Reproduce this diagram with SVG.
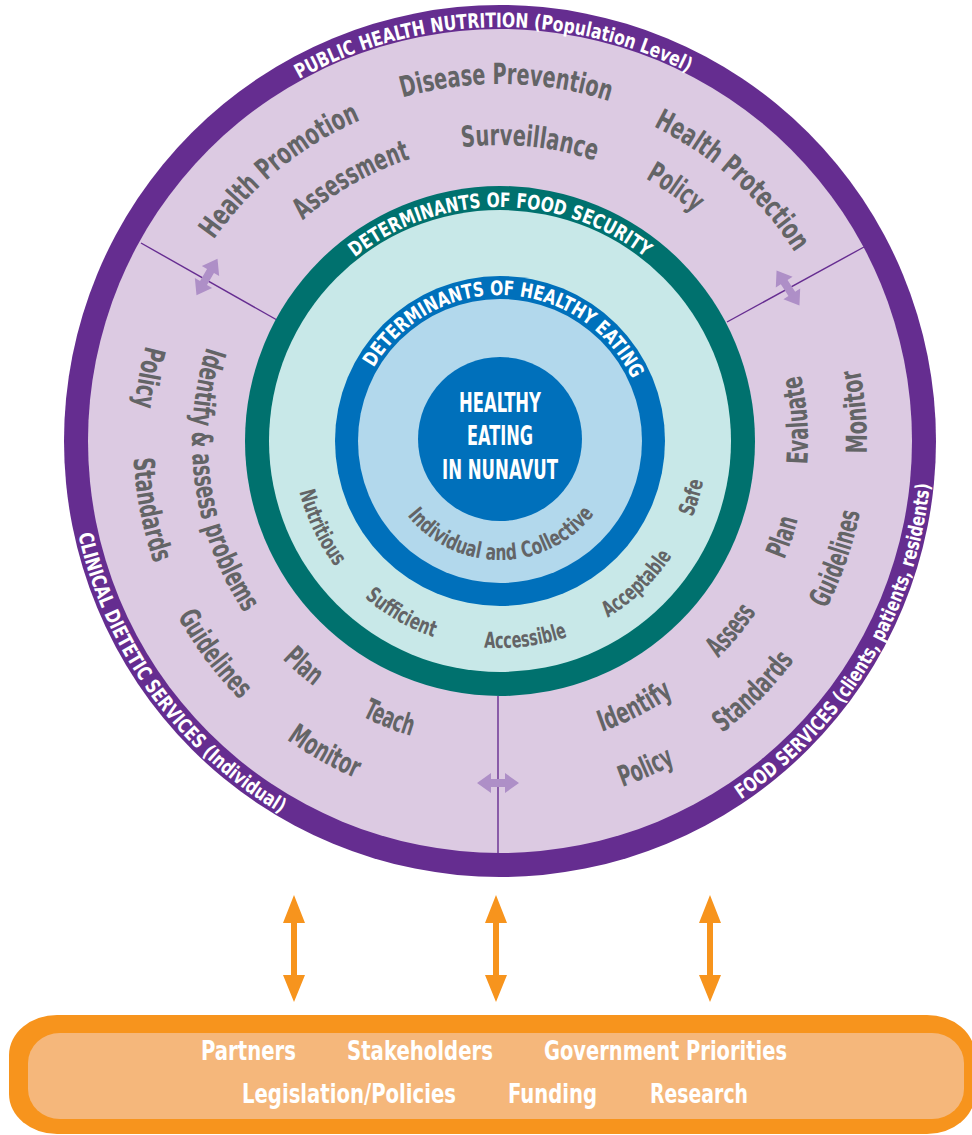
<svg xmlns="http://www.w3.org/2000/svg" xmlns:xlink="http://www.w3.org/1999/xlink" width="972" height="1135" viewBox="0 0 972 1135">
<style>
.f{font-family:"DejaVu Sans Condensed","DejaVu Sans","Liberation Sans",sans-serif;font-weight:bold;font-stretch:condensed}
.lbl{fill:#636466;font-size:29px}
.sm{fill:#636466;font-size:22px}
.ring{fill:#ffffff;font-size:20px}
.ctr{fill:#ffffff;font-size:26px}
.box{fill:#ffffff;font-size:27px}
.div{stroke:#662d91;stroke-width:1.4;fill:none}
.parr{fill:#ae8fc7}
.oarr{fill:#f7941d}
</style>
<defs>
<path id="pO414" d="M 86 441 A 414 414 0 0 1 914 441"/>
<path id="pO234" d="M 266 441 A 234 234 0 0 1 734 441"/>
<path id="pO146" d="M 354 441 A 146 146 0 0 1 646 441"/>
<path id="pO350" d="M 150 441 A 350 350 0 0 1 850 441"/>
<path id="pO357" d="M 143 441 A 357 357 0 0 1 857 441"/>
<path id="pO296" d="M 204 441 A 296 296 0 0 1 796 441"/>
<path id="pO300" d="M 200 441 A 300 300 0 0 1 800 441"/>
<path id="pI432" d="M 68 441 A 432 432 0 0 0 932 441"/>
<path id="pI367" d="M 133 441 A 367 367 0 0 0 867 441"/>
<path id="pI308" d="M 192 441 A 308 308 0 0 0 808 441"/>
<path id="pI207" d="M 293 441 A 207 207 0 0 0 707 441"/>
<path id="pI119" d="M 381 441 A 119 119 0 0 0 619 441"/>
<path id="dbl" d="M -21 0 L -7 -10 L -7 -4 L 7 -4 L 7 -10 L 21 0 L 7 10 L 7 4 L -7 4 L -7 10 Z"/>
</defs>

<g id="outer-ring">
<circle cx="500" cy="441" r="436" fill="#652d90"/>
<circle cx="500" cy="441" r="412" fill="#dccae2"/>
</g>

<g id="connectors">
<line class="div" x1="141" y1="243" x2="277" y2="320"/>
<line class="div" x1="864" y1="247" x2="727" y2="322"/>
<line class="div" x1="498" y1="696" x2="498" y2="853"/>
<use href="#dbl" class="parr" transform="translate(207,277) rotate(-60)"/>
<use href="#dbl" class="parr" transform="translate(788,288) rotate(57)"/>
<use href="#dbl" class="parr" transform="translate(498,783)"/>
<path class="oarr" d="M 294 895 L 305 923 L 297 923 L 297 975 L 305 975 L 294 1002 L 283 975 L 291 975 L 291 923 L 283 923 Z"/>
<path class="oarr" d="M 496 895 L 507 923 L 499 923 L 499 975 L 507 975 L 496 1002 L 485 975 L 493 975 L 493 923 L 485 923 Z"/>
<path class="oarr" d="M 710 895 L 721 923 L 713 923 L 713 975 L 721 975 L 710 1002 L 699 975 L 707 975 L 707 923 L 699 923 Z"/>
</g>

<g id="food-security">
<circle cx="500" cy="441" r="255" fill="#00716e"/>
<circle cx="500" cy="441" r="231" fill="#c8e8e8"/>
<text class="f ring" font-size="19" text-anchor="middle" fill="#d6f0ef"><textPath href="#pO234" startOffset="50%" textLength="313" lengthAdjust="spacingAndGlyphs">DETERMINANTS OF FOOD SECURITY</textPath></text>
<g transform="rotate(64.2 500 441)"><text class="f sm" text-anchor="middle"><textPath href="#pI207" startOffset="50%" textLength="84" lengthAdjust="spacingAndGlyphs">Nutritious</textPath></text></g>
<g transform="rotate(29.8 500 441)"><text class="f sm" text-anchor="middle"><textPath href="#pI207" startOffset="50%" textLength="80" lengthAdjust="spacingAndGlyphs">Sufficient</textPath></text></g>
<g transform="rotate(-7.3 500 441)"><text class="f sm" text-anchor="middle"><textPath href="#pI207" startOffset="50%" textLength="85" lengthAdjust="spacingAndGlyphs">Accessible</textPath></text></g>
<g transform="rotate(-43.8 500 441)"><text class="f sm" text-anchor="middle"><textPath href="#pI207" startOffset="50%" textLength="90" lengthAdjust="spacingAndGlyphs">Acceptable</textPath></text></g>
<g transform="rotate(-73.6 500 441)"><text class="f sm" text-anchor="middle"><textPath href="#pI207" startOffset="50%" textLength="38" lengthAdjust="spacingAndGlyphs">Safe</textPath></text></g>
</g>

<g id="healthy-eating-ring">
<circle cx="500" cy="441" r="165" fill="#0070bb"/>
<circle cx="500" cy="441" r="142" fill="#b2d8ec"/>
<g transform="rotate(2.5 500 441)"><text class="f ring" font-size="18" text-anchor="middle" fill="#c2e2f3"><textPath href="#pO146" startOffset="50%" textLength="318" lengthAdjust="spacingAndGlyphs">DETERMINANTS OF HEALTHY EATING</textPath></text></g>
<g transform="rotate(-0.5 500 441)"><text class="f sm" text-anchor="middle"><textPath href="#pI119" startOffset="50%" textLength="215" lengthAdjust="spacingAndGlyphs">Individual and Collective</textPath></text></g>
</g>

<g id="center">
<circle cx="500" cy="439" r="82" fill="#0070bb"/>
<text class="f ctr" x="500" y="412" text-anchor="middle" textLength="82" lengthAdjust="spacingAndGlyphs">HEALTHY</text>
<text class="f ctr" x="500" y="445" text-anchor="middle" textLength="66" lengthAdjust="spacingAndGlyphs">EATING</text>
<text class="f ctr" x="500" y="479" text-anchor="middle" textLength="116" lengthAdjust="spacingAndGlyphs">IN NUNAVUT</text>
</g>

<g id="public-health-nutrition">
<g transform="rotate(-1 500 441)"><text class="f ring" text-anchor="middle"><textPath href="#pO414" startOffset="50%" textLength="405" lengthAdjust="spacingAndGlyphs">PUBLIC HEALTH NUTRITION (Population Level)</textPath></text></g>
<g transform="rotate(-39.2 500 441)"><text class="f lbl" text-anchor="middle"><textPath href="#pO350" startOffset="50%" textLength="192" lengthAdjust="spacingAndGlyphs">Health Promotion</textPath></text></g>
<g transform="rotate(1 500 441)"><text class="f lbl" text-anchor="middle"><textPath href="#pO357" startOffset="50%" textLength="210" lengthAdjust="spacingAndGlyphs">Disease Prevention</textPath></text></g>
<g transform="rotate(41.7 500 441)"><text class="f lbl" text-anchor="middle"><textPath href="#pO350" startOffset="50%" textLength="192" lengthAdjust="spacingAndGlyphs">Health Protection</textPath></text></g>
<g transform="rotate(-29.7 500 441)"><text class="f lbl" text-anchor="middle"><textPath href="#pO296" startOffset="50%" textLength="125" lengthAdjust="spacingAndGlyphs">Assessment</textPath></text></g>
<g transform="rotate(5.7 500 441)"><text class="f lbl" text-anchor="middle"><textPath href="#pO296" startOffset="50%" textLength="135" lengthAdjust="spacingAndGlyphs">Surveillance</textPath></text></g>
<g transform="rotate(34.7 500 441)"><text class="f lbl" text-anchor="middle"><textPath href="#pO300" startOffset="50%" textLength="60" lengthAdjust="spacingAndGlyphs">Policy</textPath></text></g>
</g>

<g id="clinical-dietetic-services">
<g transform="rotate(54 500 441)"><text class="f ring" text-anchor="middle"><textPath href="#pI432" startOffset="50%" textLength="355" lengthAdjust="spacingAndGlyphs">CLINICAL DIETETIC SERVICES (Individual)</textPath></text></g>
<g transform="rotate(100.2 500 441)"><text class="f lbl" text-anchor="middle"><textPath href="#pI367" startOffset="50%" textLength="63" lengthAdjust="spacingAndGlyphs">Policy</textPath></text></g>
<g transform="rotate(78.9 500 441)"><text class="f lbl" text-anchor="middle"><textPath href="#pI367" startOffset="50%" textLength="108" lengthAdjust="spacingAndGlyphs">Standards</textPath></text></g>
<g transform="rotate(81.9 500 441)"><text class="f lbl" text-anchor="middle"><textPath href="#pI308" startOffset="50%" textLength="278" lengthAdjust="spacingAndGlyphs">Identify &amp; assess problems</textPath></text></g>
<g transform="rotate(53.3 500 441)"><text class="f lbl" text-anchor="middle"><textPath href="#pI367" startOffset="50%" textLength="105" lengthAdjust="spacingAndGlyphs">Guidelines</textPath></text></g>
<g transform="rotate(41.1 500 441)"><text class="f lbl" text-anchor="middle"><textPath href="#pI308" startOffset="50%" textLength="42" lengthAdjust="spacingAndGlyphs">Plan</textPath></text></g>
<g transform="rotate(21.7 500 441)"><text class="f lbl" text-anchor="middle"><textPath href="#pI308" startOffset="50%" textLength="53" lengthAdjust="spacingAndGlyphs">Teach</textPath></text></g>
<g transform="rotate(29.4 500 441)"><text class="f lbl" text-anchor="middle"><textPath href="#pI367" startOffset="50%" textLength="79" lengthAdjust="spacingAndGlyphs">Monitor</textPath></text></g>
</g>

<g id="food-services">
<g transform="rotate(-59.1 500 441)"><text class="f ring" text-anchor="middle"><textPath href="#pI432" startOffset="50%" textLength="380" lengthAdjust="spacingAndGlyphs">FOOD SERVICES (clients, patients, residents)</textPath></text></g>
<g transform="rotate(-94 500 441)"><text class="f lbl" text-anchor="middle"><textPath href="#pI308" startOffset="50%" textLength="90" lengthAdjust="spacingAndGlyphs">Evaluate</textPath></text></g>
<g transform="rotate(-94.7 500 441)"><text class="f lbl" text-anchor="middle"><textPath href="#pI367" startOffset="50%" textLength="85" lengthAdjust="spacingAndGlyphs">Monitor</textPath></text></g>
<g transform="rotate(-71.3 500 441)"><text class="f lbl" text-anchor="middle"><textPath href="#pI308" startOffset="50%" textLength="43" lengthAdjust="spacingAndGlyphs">Plan</textPath></text></g>
<g transform="rotate(-70.8 500 441)"><text class="f lbl" text-anchor="middle"><textPath href="#pI367" startOffset="50%" textLength="103" lengthAdjust="spacingAndGlyphs">Guidelines</textPath></text></g>
<g transform="rotate(-50.7 500 441)"><text class="f lbl" text-anchor="middle"><textPath href="#pI308" startOffset="50%" textLength="60" lengthAdjust="spacingAndGlyphs">Assess</textPath></text></g>
<g transform="rotate(-45.3 500 441)"><text class="f lbl" text-anchor="middle"><textPath href="#pI367" startOffset="50%" textLength="103" lengthAdjust="spacingAndGlyphs">Standards</textPath></text></g>
<g transform="rotate(-26.8 500 441)"><text class="f lbl" text-anchor="middle"><textPath href="#pI308" startOffset="50%" textLength="81" lengthAdjust="spacingAndGlyphs">Identify</textPath></text></g>
<g transform="rotate(-24 500 441)"><text class="f lbl" text-anchor="middle"><textPath href="#pI367" startOffset="50%" textLength="58" lengthAdjust="spacingAndGlyphs">Policy</textPath></text></g>
</g>

<g id="partners-box">
<rect x="9" y="1015" width="966" height="119" rx="48" ry="40" fill="#f7941d"/>
<rect x="28" y="1033" width="936" height="86" rx="32" ry="30" fill="#f5b77b"/>
<text class="f box" x="201" y="1060" textLength="95" lengthAdjust="spacingAndGlyphs">Partners</text>
<text class="f box" x="347" y="1060" textLength="146" lengthAdjust="spacingAndGlyphs">Stakeholders</text>
<text class="f box" x="544" y="1060" textLength="243" lengthAdjust="spacingAndGlyphs">Government Priorities</text>
<text class="f box" x="242" y="1103" textLength="214" lengthAdjust="spacingAndGlyphs">Legislation/Policies</text>
<text class="f box" x="508" y="1103" textLength="89" lengthAdjust="spacingAndGlyphs">Funding</text>
<text class="f box" x="650" y="1103" textLength="98" lengthAdjust="spacingAndGlyphs">Research</text>
</g>
</svg>
